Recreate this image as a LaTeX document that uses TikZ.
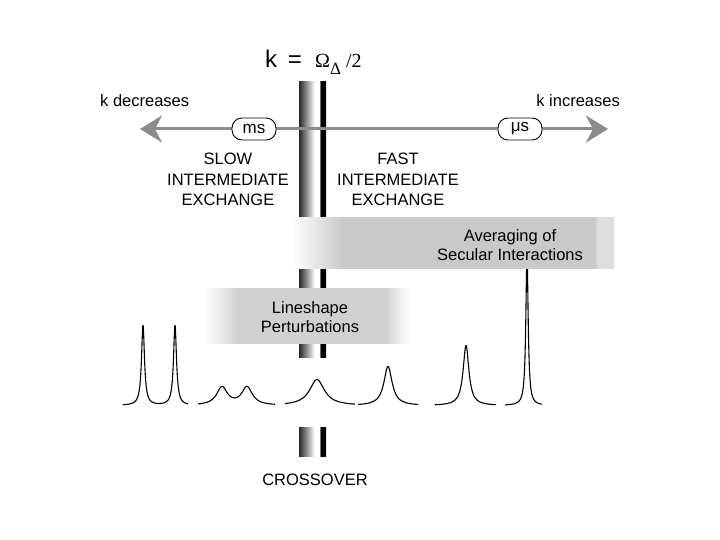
\documentclass[tikz,border=0pt]{standalone}
\usepackage[no-math]{fontspec}
\setmainfont{Liberation Sans}
\newfontfamily\symbfont{Liberation Serif}
\usepackage{tikz}
\usetikzlibrary{arrows.meta,positioning}

% shadings: 25bp..75bp is stretched over the filled rectangle
\pgfdeclarehorizontalshading{barfade}{100bp}{color(0bp)=(black!85); color(25bp)=(black!85);
  color(54bp)=(white); color(63bp)=(white); color(64.5bp)=(black); color(100bp)=(black)}
\pgfdeclarehorizontalshading{avgfade}{100bp}{color(0bp)=(white); color(25bp)=(white);
  color(33bp)=(black!21); color(72bp)=(black!21); color(72.5bp)=(black!13); color(100bp)=(black!13)}
\pgfdeclarehorizontalshading{pertfade}{100bp}{color(0bp)=(white); color(25bp)=(white);
  color(33bp)=(black!18); color(69bp)=(black!18); color(75bp)=(white); color(100bp)=(white)}

\begin{document}
\begin{tikzpicture}[x=1pt, y=-1pt,
    every node/.style={inner sep=0pt},
    lbl/.style={font=\fontsize{16.5}{20.5}\selectfont, align=center},
    tag/.style={draw, line width=0.9pt, fill=white, rounded corners=10pt,
      minimum width=44pt, minimum height=22pt, font=\fontsize{17}{19}\selectfont},
    spec/.style={line width=1.1pt, line join=round},
    crossbar/.style={shading=barfade},
    >={Stealth[length=22pt, width=27pt, inset=7pt]},
    timeline/.style={line width=3pt, draw=black!45, <->}]
  \useasboundingbox (0,0) rectangle (720,540);
  % Spectra
  \draw[spec] plot[domain=123:188, samples=400]
    (\x, {405.5 - 80/(1+((\x-143)/1.8)^2) - 80/(1+((\x-175)/1.8)^2)});
  \draw[spec] plot[domain=198:275, samples=150]
    (\x, {405.5 - 18/(1+((\x-222)/6.5)^2) - 18/(1+((\x-247)/6.5)^2)});
  \draw[spec] plot[domain=285:355, samples=150] (\x, {405.5 - 26/(1+((\x-317)/9)^2)});
  \draw[spec] plot[domain=358:418, samples=150] (\x, {405.5 - 39/(1+((\x-388)/5)^2)});
  \draw[spec] plot[domain=435:496, samples=200] (\x, {405.5 - 60/(1+((\x-466)/3.5)^2)});
  \draw[spec] plot[domain=505:542, samples=400] (\x, {405.5 - 150/(1+((\x-527)/1.4)^2)});
  % Crossover bar
  \shade[crossbar] (299,82) rectangle (326,357);
  \shade[crossbar] (299,427) rectangle (326,456);
  % Bands
  \shade[shading=avgfade] (292,218) rectangle (614,268);
  \shade[shading=pertfade] (205,288) rectangle (410,343);
  % Labels
  \node[anchor=base west] (rate) at (265,68)
    {\fontsize{24}{28}\selectfont k \,= \
     {\symbfont\fontsize{20}{24}\selectfont Ω\raisebox{-7pt}{\fontsize{17}{19}\selectfont Δ}\ /2}};
  \node[lbl, anchor=base west] (kdec) at (100,107) {k decreases};
  \node[lbl, anchor=base east] (kinc) at (620,107) {k increases};
  \coordinate (slowend) at (140,129);
  \coordinate (fastend) at (608,129);
  \draw[timeline] (slowend) -- (fastend);
  \node[tag] (ms) at (254,129) {ms};
  \node[tag] (mus) at (520,129) {μs};
  \node[lbl, anchor=north] (slow) at (228,153) {SLOW\\INTERMEDIATE\\EXCHANGE};
  \node[lbl, anchor=north] (fast) at (398,153) {FAST\\INTERMEDIATE\\EXCHANGE};
  \node[lbl, anchor=north, font=\fontsize{16.5}{19.5}\selectfont] (avg) at (510,229)
    {Averaging of\\Secular Interactions};
  \node[lbl, anchor=north, font=\fontsize{16.5}{19.5}\selectfont] (pert) at (310,301)
    {Lineshape\\Perturbations};
  \node[lbl, anchor=base] (cross) at (315,485) {CROSSOVER};
\end{tikzpicture}
\end{document}
